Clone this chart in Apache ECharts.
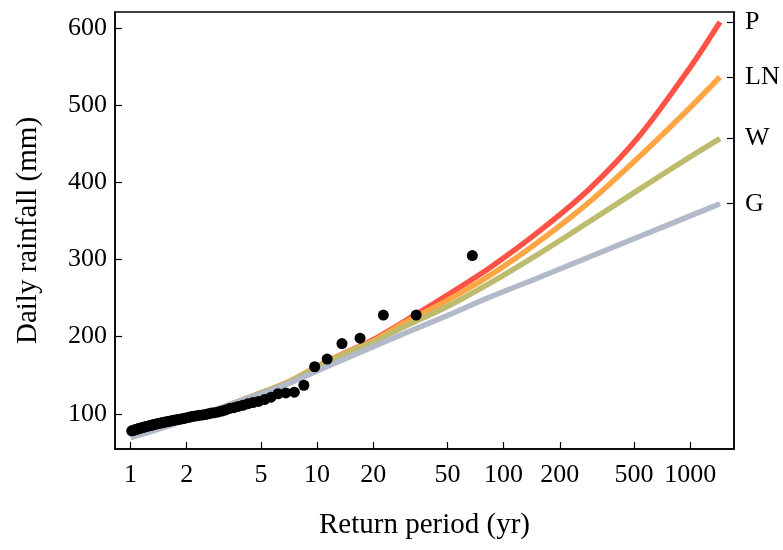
<!DOCTYPE html>
<html>
<head>
<meta charset="utf-8">
<title>Daily rainfall vs return period</title>
<script src="https://cdn.jsdelivr.net/npm/echarts@6.0.0/dist/echarts.min.js"></script>
<style>
  html, body { margin: 0; padding: 0; background: #fff; }
  #chart { width: 783px; height: 550px; }
</style>
</head>
<body>
<div id="chart"></div>
<script>
// observed maxima (return period in yr, rainfall in mm)
const obsPeriod = [1.015, 1.03, 1.046, 1.063, 1.079, 1.097, 1.115, 1.133, 1.153, 1.172,
  1.193, 1.214, 1.236, 1.259, 1.283, 1.308, 1.333, 1.36, 1.388, 1.417,
  1.447, 1.478, 1.511, 1.545, 1.581, 1.619, 1.659, 1.7, 1.744, 1.789,
  1.838, 1.889, 1.943, 2.0, 2.061, 2.125, 2.194, 2.267, 2.345, 2.429,
  2.519, 2.615, 2.72, 2.833, 2.957, 3.091, 3.238, 3.4, 3.579, 3.778,
  4.0, 4.25, 4.533, 4.857, 5.231, 5.667, 6.182, 6.8, 7.556, 8.5,
  9.714, 11.33, 13.6, 17, 22.67, 34, 68]
const obsRain = [78, 78.5, 79, 79.5, 80, 80.5, 81, 81.5, 82, 82.5,
  83, 83.5, 84, 84.5, 85, 85.5, 86, 86.5, 87, 87.5,
  88, 88.5, 89, 89.5, 90, 90.5, 91, 91.5, 92, 92.5,
  93, 93.5, 94, 95, 95.5, 96.5, 97, 97.5, 98, 98.5,
  99, 100, 101, 101.5, 102.5, 103.5, 105, 107, 108, 109.5,
  111, 113, 114.5, 116, 118.5, 121.5, 126, 127, 128, 137,
  161, 171, 191, 198, 228, 228, 305]

// fitted distributions
const fitPeriod = [1, 1.5, 2, 3, 5, 7, 10, 15, 20, 30, 50, 84, 156, 290, 538, 1000, 1445]
const rainP  = [74, 84, 93, 107, 127, 141, 161, 182, 196, 221, 254, 289, 337, 392, 461, 549, 607.8]
const rainLN = [74, 84, 93, 107, 127, 141, 161, 181.5, 194.5, 219, 247, 279, 324, 375, 434, 497, 536.5]
const rainW  = [74, 84, 93, 107, 127, 140.5, 160, 180.5, 193, 214, 239, 269, 308, 349.5, 391.5, 433, 456.6]
const rainG  = [69, 82, 92, 107, 126, 139, 155.5, 174, 187, 205, 227.5, 251, 277, 303.5, 330, 356.5, 372.3]

const curveNames = ['P', 'LN', 'W', 'G']
const curveColors = ['#fe5246', '#fea544', '#bcbb6e', '#b2b9c9']
const xTicks = [1, 2, 5, 10, 20, 50, 100, 200, 500, 1000]
const yTicks = [100, 200, 300, 400, 500, 600]

const curves = [rainP, rainLN, rainW, rainG]
const endValues = curves.map(c => c[c.length - 1])

const font = 'Liberation Serif'
const chart = echarts.init(document.getElementById('chart'))

const lineSeries = curves.map((vals, i) => ({
  name: curveNames[i],
  type: 'line',
  yAxisIndex: 0,
  data: fitPeriod.map((t, k) => [t, vals[k]]),
  showSymbol: false,
  smooth: 0.3,
  lineStyle: { color: curveColors[i], width: 5.5, cap: 'butt' },
  z: 2 + i
}))

chart.setOption({
  animation: false,
  grid: {
    left: 115, right: 49, top: 12, bottom: 101,
    outerBoundsMode: 'none',
    show: true, borderColor: '#000', borderWidth: 1.5
  },
  xAxis: {
    type: 'log',
    logBase: 10,
    min: 0.826,
    max: 1718,
    name: 'Return period (yr)',
    nameLocation: 'middle',
    nameGap: 62,
    nameTextStyle: { fontFamily: font, fontSize: 29, color: '#000' },
    axisLine: { lineStyle: { color: '#000', width: 1.5 } },
    axisTick: { inside: true, length: 7, customValues: xTicks, lineStyle: { color: '#000', width: 1.2 } },
    axisLabel: {
      customValues: xTicks, margin: 13, fontFamily: font, fontSize: 26, color: '#000',
      formatter: v => String(Math.round(v))
    },
    splitLine: { show: false },
    minorTick: { show: false }
  },
  yAxis: [{
    type: 'value',
    min: 54.4,
    max: 620.7,
    name: 'Daily rainfall (mm)',
    nameLocation: 'middle',
    nameGap: 72,
    nameTextStyle: { fontFamily: font, fontSize: 29, color: '#000' },
    axisLine: { show: true, lineStyle: { color: '#000', width: 1.5 } },
    axisTick: { show: true, inside: true, length: 7, customValues: yTicks, lineStyle: { color: '#000', width: 1.2 } },
    axisLabel: { customValues: yTicks, margin: 8, fontFamily: font, fontSize: 26, color: '#000' },
    splitLine: { show: false }
  }, {
    type: 'value',
    position: 'right',
    min: 54.4,
    max: 620.7,
    axisLine: { show: true, lineStyle: { color: '#000', width: 1.5 } },
    axisTick: { show: true, inside: true, length: 7, customValues: endValues, lineStyle: { color: '#000', width: 1.2 } },
    axisLabel: {
      customValues: endValues,
      margin: 11,
      fontFamily: font, fontSize: 26, color: '#000',
      formatter: v => {
        let best = 0
        endValues.forEach((e, i) => { if (Math.abs(e - v) < Math.abs(endValues[best] - v)) best = i })
        return curveNames[best]
      }
    },
    splitLine: { show: false }
  }],
  series: lineSeries.concat([{
    name: 'Observed',
    type: 'scatter',
    data: obsPeriod.map((t, k) => [t, obsRain[k]]),
    symbolSize: 11,
    itemStyle: { color: '#000', opacity: 1 },
    z: 10
  }])
})
</script>
</body>
</html>
